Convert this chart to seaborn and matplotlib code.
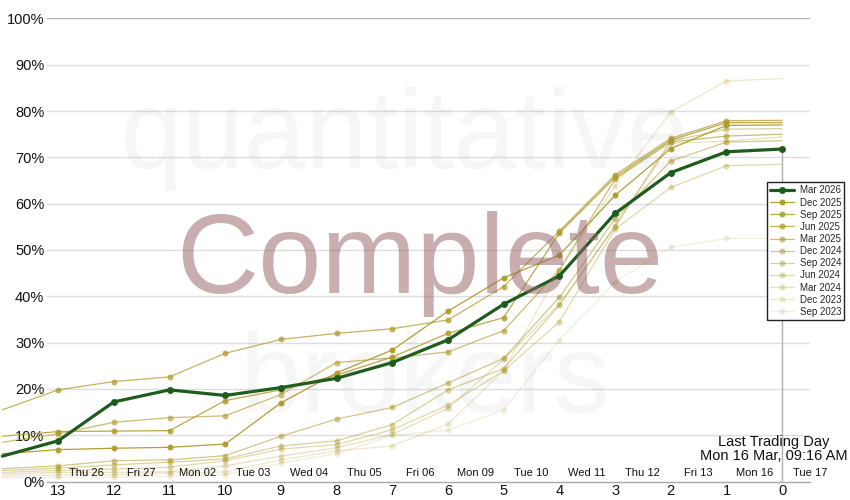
import matplotlib
matplotlib.use("Agg")
import matplotlib.pyplot as plt
import pandas as pd
import seaborn as sns

# days to expiry (x axis runs from 13 down to 0, 14 is just off the left edge)
days = [14, 13, 12, 11, 10, 9, 8, 7, 6, 5, 4, 3, 2, 1, 0]
day_names = ["Thu 26", "Fri 27", "Mon 02", "Tue 03", "Wed 04", "Thu 05", "Fri 06",
             "Mon 09", "Tue 10", "Wed 11", "Thu 12", "Fri 13", "Mon 16", "Tue 17"]

mar_2026 = [5.5, 8.8, 17.2, 19.8, 18.6, 20.3, 22.3, 25.7, 30.6, 38.3, 44.4, 57.9, 66.7, 71.2, 71.8]

dec_2025 = [6.0, 6.9, 7.2, 7.4, 8.1, 17.0, 23.5, 28.4, 36.8, 44.0, 48.9, 61.8, 71.9, 76.9, 77.0]
sep_2025 = [9.8, 10.8, 10.9, 11.0, 17.5, 19.8, 23.0, 26.9, 32.0, 35.4, 53.7, 65.7, 73.7, 77.5, 77.5]
jun_2025 = [15.5, 19.8, 21.6, 22.6, 27.7, 30.7, 32.0, 33.0, 34.9, 42.1, 54.1, 66.2, 74.1, 77.9, 78.0]
mar_2025 = [8.5, 10.3, 12.8, 13.8, 14.2, 18.8, 25.7, 26.7, 28.0, 32.6, 45.7, 65.3, 73.3, 74.6, 75.0]
dec_2024 = [2.8, 3.4, 4.5, 4.7, 5.6, 9.8, 13.5, 16.0, 21.3, 26.6, 39.8, 56.7, 69.2, 73.3, 73.6]
sep_2024 = [2.4, 2.9, 3.6, 4.2, 4.9, 7.7, 8.8, 12.3, 19.8, 24.4, 38.1, 55.2, 73.5, 76.1, 76.2]
jun_2024 = [2.0, 2.4, 2.7, 3.1, 4.5, 7.0, 8.0, 11.2, 16.5, 23.9, 34.5, 54.5, 63.5, 68.2, 68.5]
mar_2024 = [1.6, 2.0, 2.0, 2.1, 3.4, 5.5, 7.3, 10.2, 15.8, 26.4, 38.3, 55.0, 73.0, 73.5, 74.4]
dec_2023 = [1.2, 1.4, 1.5, 1.8, 2.1, 4.7, 6.6, 7.7, 12.4, 24.0, 45.5, 63.8, 79.8, 86.5, 87.0]
sep_2023 = [0.8, 0.9, 1.0, 1.2, 1.5, 4.0, 6.0, 10.0, 11.1, 15.5, 30.6, 43.1, 50.6, 52.5, 52.5]

older = [
    ("Dec 2025", dec_2025), ("Sep 2025", sep_2025), ("Jun 2025", jun_2025),
    ("Mar 2025", mar_2025), ("Dec 2024", dec_2024), ("Sep 2024", sep_2024),
    ("Jun 2024", jun_2024), ("Mar 2024", mar_2024), ("Dec 2023", dec_2023),
    ("Sep 2023", sep_2023),
]
fades = [0.95, 0.85, 0.75, 0.65, 0.55, 0.46, 0.38, 0.3, 0.23, 0.17]

GREEN = "#1d5c1d"
GOLD = "#b09a2a"

sns.set_theme(style="white")
plt.rcParams["font.family"] = ["Liberation Sans", "DejaVu Sans"]

fig = plt.figure(figsize=(8.5, 5), dpi=100)
ax = fig.add_axes([47 / 850, 18.4 / 500, 763 / 850, 463.2 / 500])

# watermark
fig.text(405 / 850, 1 - 168 / 500, "quantitative", fontsize=80, color="#888888",
         alpha=0.075, ha="center", va="baseline", zorder=0)
fig.text(420 / 850, 1 - 293 / 500, "Complete", fontsize=82, color="#966464",
         alpha=0.52, ha="center", va="baseline", zorder=0)
fig.text(425 / 850, 1 - 412 / 500, "brokers", fontsize=80, color="#888888",
         alpha=0.075, ha="center", va="baseline", zorder=0)
ax.patch.set_alpha(0)

for yv in range(10, 100, 10):
    ax.axhline(yv, color="#dedede", lw=1, zorder=0.5)
ax.axhline(100, color="#b0b0b0", lw=1, zorder=0.5)

for (name, vals), a in zip(reversed(older), reversed(fades)):
    df = pd.DataFrame({"days": days, "pct": vals})
    sns.lineplot(data=df, x="days", y="pct", ax=ax, color=GOLD, alpha=a, lw=0.9,
                 marker="o", markersize=4.3, markeredgewidth=0, sort=False,
                 markevery=slice(1, -1), clip_on=False, label=name, zorder=2)

ax.vlines(days[-1], 0, mar_2026[-1], color="#b0b0b0", lw=1, zorder=2.5)

df = pd.DataFrame({"days": days, "pct": mar_2026})
sns.lineplot(data=df, x="days", y="pct", ax=ax, color=GREEN, lw=2.3,
             marker="o", markersize=5, markeredgewidth=0, sort=False,
             markevery=slice(1, None), clip_on=False, label="Mar 2026", zorder=3)

ax.set_xlim(13.2, -0.5)
ax.set_ylim(0, 100)
ax.set_xticks(days[1:])
ax.set_xticklabels([str(d) for d in days[1:]], fontsize=10.5)
ax.set_yticks(range(0, 101, 10))
ax.set_yticklabels([f"{v}%" for v in range(0, 101, 10)], fontsize=10.5)
ax.tick_params(axis="both", length=0, pad=2, colors="#111111")
ax.set_xlabel("")
ax.set_ylabel("")
for side in ["top", "right", "left"]:
    ax.spines[side].set_visible(False)
ax.spines["bottom"].set_color("#a8a8a8")
ax.spines["bottom"].set_linewidth(1)

# calendar day names between the day counts
for d, lbl in zip(days[1:], day_names):
    ax.text(d - 0.5, 0.019, lbl, transform=ax.get_xaxis_transform(),
            ha="center", va="center", fontsize=8, color="#111111", zorder=4)

fig.text(848 / 850, 1 - 449 / 500, "Last Trading Day\nMon 16 Mar, 09:16 AM",
         ha="right", va="center", multialignment="center",
         fontsize=10.5, linespacing=0.95, color="#111111", zorder=4)

handles, labels = ax.get_legend_handles_labels()
order = [labels.index("Mar 2026")] + [labels.index(n) for n, _ in older]
leg = ax.legend([handles[i] for i in order], [labels[i] for i in order],
                loc="upper left", bbox_to_anchor=(767 / 850, 1 - 182 / 500),
                bbox_transform=fig.transFigure, fontsize=7, frameon=True,
                fancybox=False, edgecolor="#222222", framealpha=1,
                borderpad=0.35, labelspacing=0.22, handlelength=2.4,
                handletextpad=0.6, borderaxespad=0)
leg.get_frame().set_linewidth(1)
leg.set_zorder(5)

fig.savefig("out.png", dpi=100)
